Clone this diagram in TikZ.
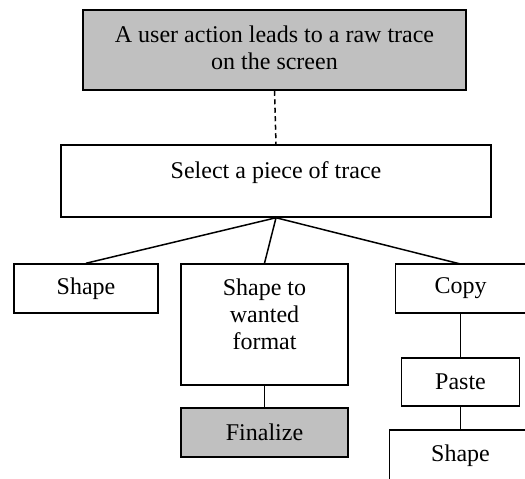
\documentclass[tikz,border=0pt]{standalone}
\usepackage{fontspec}
\setmainfont{Liberation Serif}
\definecolor{boxgray}{HTML}{C0C0C0}
\tikzset{
  bx/.style={draw=black, line width=0.75pt, rectangle, inner sep=0pt, align=center},
  txt/.style={inner sep=0pt, align=center},
  link/.style={line width=0.75pt},
}
\begin{document}
\begin{tikzpicture}[x=0.5pt, y=-0.5pt, font=\fontsize{12}{13.6}\selectfont]
\useasboundingbox (0,0) rectangle (525,478);
\clip (0,0) rectangle (525,478);
% top box
\node[bx, fill=boxgray, minimum width=191.5pt, minimum height=40pt] (top) at (274.5,50) {};
\node[txt] (topT) at (274.5,48) {A user action leads to a raw trace\\on the screen};
% select
\node[bx, fill=white, minimum width=215pt, minimum height=36pt] (select) at (276,181) {};
\node[txt] (selectT) at (276,173) {Select a piece of trace};
% level 2
\node[bx, minimum width=72pt, minimum height=24.5pt] (shapeA) at (86,288.5) {Shape};
\node[bx, minimum width=83.5pt, minimum height=60.5pt] (wanted) at (264.5,324.5) {};
\node[txt, anchor=north] (wantedT) at (264.5,278) {Shape to\\wanted\\format};
\node[bx, minimum width=66pt, minimum height=24.5pt] (copy) at (461.5,288.5) {};
\node[txt] (copyT) at (460.5,288.5) {Copy};
\coordinate (copyAxis) at (460.5,313);
\coordinate (copyTop) at (460.5,264);
% level 3
\node[bx, fill=boxgray, minimum width=83.5pt, minimum height=24.5pt] (final) at (264.5,432.5) {Finalize};
\node[bx, minimum width=59pt, minimum height=24pt] (paste) at (460.5,382) {Paste};
\node[bx, minimum width=71pt, minimum height=26pt] (shapeB) at (460.5,456) {};
\node[txt] (shapeBT) at (460.5,456) {Shape};
% connectors
\draw[link, dash pattern=on 2.5pt off 1.75pt] (top.south) -- (select.north);
\draw[link] (select.south) -- (shapeA.north);
\draw[link] (select.south) -- (wanted.north);
\draw[link] (select.south) -- (copyTop);
\draw[link] (wanted.south) -- (final.north);
\draw[link] (copyAxis) -- (paste.north);
\draw[link] (paste.south) -- (shapeB.north);
\end{tikzpicture}
\end{document}
